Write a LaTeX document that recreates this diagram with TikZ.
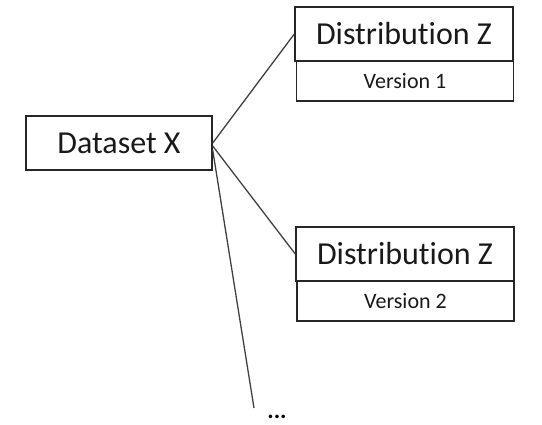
\documentclass[tikz,border=0pt]{standalone}
\usepackage{fontspec}
\setmainfont{Carlito}[Ligatures={NoCommon}]
\definecolor{edge}{HTML}{404040}
\tikzset{
  bigbox/.style={draw=black!85, line width=1.4pt, minimum width=218pt, minimum height=54pt, inner sep=0pt, font=\fontsize{32}{38}\selectfont, text=black!90},
  verbox/.style={draw=black!85, line width=1.4pt, minimum width=217pt, minimum height=40pt, inner sep=0pt, font=\fontsize{22}{26}\selectfont, text=black!90},
  link/.style={draw=edge, line width=1.3pt}
}
\begin{document}
\begin{tikzpicture}[x=1pt,y=-1pt]
\useasboundingbox (0,0) rectangle (542,425);
\node[bigbox, minimum width=186pt] (data) at (119,143) {Dataset X};
\node[bigbox] (d1) at (404,34) {Distribution Z};
\node[verbox] (v1) at (405,81) {Version 1};
\node[bigbox] (d2) at (405,254) {Distribution Z};
\node[verbox] (v2) at (405.5,301) {Version 2};
\node[font=\fontsize{24}{28}\selectfont\bfseries, anchor=base, inner sep=0pt] (dots) at (277,419) {...};
\coordinate (tail) at (254,408);
\draw[link] (data.east) -- (d1.west);
\draw[link] ([yshift=-3pt]data.east) -- (d2.west);
\draw[link] ([yshift=-7pt]data.east) -- (tail);
\end{tikzpicture}
\end{document}
